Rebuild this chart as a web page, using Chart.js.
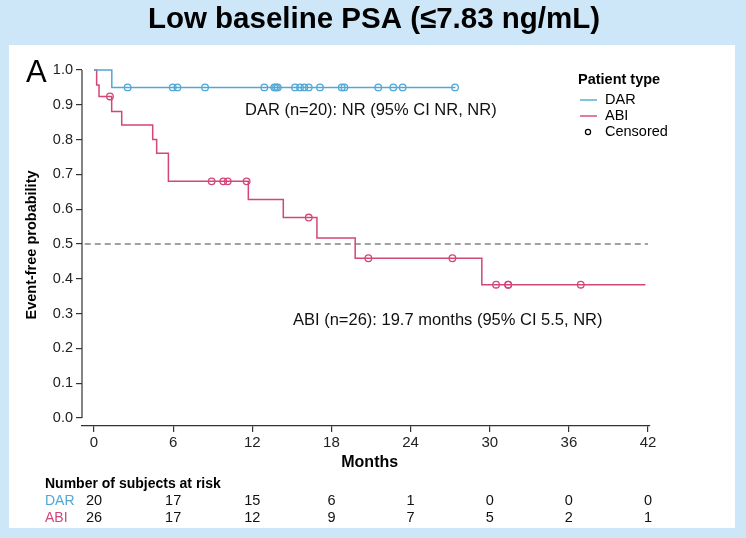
<!DOCTYPE html>
<html>
<head>
<meta charset="utf-8">
<script src="https://cdn.jsdelivr.net/npm/chart.js@4"></script>
<style>
  body { margin: 0; background: #cde7f8; }
  #panel { position: absolute; left: 9px; top: 45px; width: 726px; height: 483px; background: #fff; }
  #km { position: absolute; left: 0; top: 0; }
</style>
</head>
<body>
<div id="panel"></div>
<canvas id="km" width="746" height="538"></canvas>
<script>
// Kaplan-Meier steps (months, event-free probability)
const darTimes = [0, 1.35, 27.4];
const darSurv = [1.0, 0.95, 0.95];
const darCensored = [2.55, 5.97, 6.32, 8.42, 12.91, 13.67, 13.8, 13.93, 15.24, 15.62, 15.94, 16.28, 17.13, 18.78, 18.98, 21.55, 22.69, 23.4, 27.37];

const abiTimes = [0, 0.2, 0.38, 1.34, 2.1, 4.45, 4.75, 5.64, 11.7, 14.35, 16.9, 19.8, 29.4, 41.8];
const abiSurv = [1.0, 0.957, 0.924, 0.881, 0.842, 0.8, 0.761, 0.68, 0.628, 0.576, 0.517, 0.459, 0.383, 0.383];
const abiCensored = [1.21, 8.92, 9.8, 10.14, 11.57, 16.28, 20.8, 27.17, 30.48, 31.4, 31.4, 36.9];

const xTicks = [0, 6, 12, 18, 24, 30, 36, 42];
const yTicks = [0, 0.1, 0.2, 0.3, 0.4, 0.5, 0.6, 0.7, 0.8, 0.9, 1.0];
const riskDar = [20, 17, 15, 6, 1, 0, 0, 0];
const riskAbi = [26, 17, 12, 9, 7, 5, 2, 1];

const DAR_COLOR = '#4fa8d6';
const ABI_COLOR = '#d2467a';
const FONT = 'Arial, "Liberation Sans", sans-serif';

function survAt(times, surv, t) {
    let s = surv[0];
    for (let i = 0; i < times.length; i++) {
        if (times[i] <= t) s = surv[i];
    }
    return s;
}

function steps(times, surv) {
    return times.map((t, i) => ({ x: t, y: surv[i] }));
}

function marks(times, surv, cens) {
    return cens.map(t => ({ x: t, y: survAt(times, surv, t) }));
}

// everything that is not an axis: titles, legend, notes, risk table
const extras = {
    id: 'extras',
    beforeDatasetsDraw(chart) {
        const ctx = chart.ctx;
        const x = chart.scales.x, y = chart.scales.y;
        ctx.save();
        // y axis line, only from 0 to 1
        ctx.strokeStyle = '#333';
        ctx.lineWidth = 1.2;
        ctx.beginPath();
        ctx.moveTo(chart.chartArea.left, y.getPixelForValue(0));
        ctx.lineTo(chart.chartArea.left, y.getPixelForValue(1));
        ctx.stroke();
        // median line
        ctx.setLineDash([6, 4]);
        ctx.strokeStyle = '#444';
        ctx.lineWidth = 1.1;
        ctx.beginPath();
        ctx.moveTo(x.getPixelForValue(-0.7), y.getPixelForValue(0.5));
        ctx.lineTo(x.getPixelForValue(42), y.getPixelForValue(0.5));
        ctx.stroke();
        ctx.restore();
    },
    afterDraw(chart) {
        const ctx = chart.ctx;
        const x = chart.scales.x;
        ctx.save();
        ctx.fillStyle = '#000';
        ctx.textBaseline = 'middle';

        ctx.textAlign = 'center';
        ctx.font = 'bold 29.5px ' + FONT;
        ctx.fillText('Low baseline PSA (\u22647.83 ng/mL)', 374, 20);

        ctx.textAlign = 'left';
        ctx.font = '31px ' + FONT;
        ctx.fillText('A', 26, 73);

        ctx.save();
        ctx.translate(32, 245);
        ctx.rotate(-Math.PI / 2);
        ctx.textAlign = 'center';
        ctx.font = 'bold 14.5px ' + FONT;
        ctx.fillText('Event-free probability', 0, 0);
        ctx.restore();

        ctx.textAlign = 'center';
        ctx.font = 'bold 16px ' + FONT;
        ctx.fillText('Months', x.getPixelForValue(20.9), 463);

        ctx.textAlign = 'left';
        ctx.font = '16.5px ' + FONT;
        ctx.fillStyle = '#111';
        ctx.fillText('DAR (n=20): NR (95% CI NR, NR)', 245, 110);
        ctx.fillText('ABI (n=26): 19.7 months (95% CI 5.5, NR)', 293, 320);

        // legend
        ctx.fillStyle = '#000';
        ctx.font = 'bold 14.5px ' + FONT;
        ctx.fillText('Patient type', 578, 80);
        ctx.font = '14.5px ' + FONT;
        ctx.fillText('DAR', 605, 100);
        ctx.fillText('ABI', 605, 116);
        ctx.fillText('Censored', 605, 132);
        ctx.lineWidth = 1.4;
        ctx.strokeStyle = DAR_COLOR;
        ctx.beginPath(); ctx.moveTo(580, 100); ctx.lineTo(597, 100); ctx.stroke();
        ctx.strokeStyle = ABI_COLOR;
        ctx.beginPath(); ctx.moveTo(580, 116); ctx.lineTo(597, 116); ctx.stroke();
        ctx.strokeStyle = '#000';
        ctx.lineWidth = 1.2;
        ctx.beginPath(); ctx.arc(588, 132, 2.6, 0, Math.PI * 2); ctx.stroke();

        // number at risk
        ctx.font = 'bold 14px ' + FONT;
        ctx.fillStyle = '#000';
        ctx.fillText('Number of subjects at risk', 45, 484);
        ctx.font = '14px ' + FONT;
        ctx.fillStyle = DAR_COLOR;
        ctx.fillText('DAR', 45, 501);
        ctx.fillStyle = ABI_COLOR;
        ctx.fillText('ABI', 45, 518);
        ctx.fillStyle = '#111';
        ctx.textAlign = 'center';
        ctx.font = '14.5px ' + FONT;
        xTicks.forEach((t, i) => {
            ctx.fillText(String(riskDar[i]), x.getPixelForValue(t), 501);
            ctx.fillText(String(riskAbi[i]), x.getPixelForValue(t), 518);
        });
        ctx.restore();
    }
};

new Chart(document.getElementById('km'), {
    type: 'line',
    data: {
        datasets: [
            {
                label: 'DAR',
                data: steps(darTimes, darSurv),
                stepped: 'before',
                borderColor: DAR_COLOR,
                borderWidth: 1.5,
                pointRadius: 0,
                fill: false,
                clip: false
            },
            {
                label: 'ABI',
                data: steps(abiTimes, abiSurv),
                stepped: 'before',
                borderColor: ABI_COLOR,
                borderWidth: 1.5,
                pointRadius: 0,
                fill: false,
                clip: false
            },
            {
                label: 'DAR censored',
                data: marks(darTimes, darSurv, darCensored),
                showLine: false,
                pointStyle: 'circle',
                pointRadius: 3.3,
                pointBorderWidth: 1.3,
                pointBorderColor: DAR_COLOR,
                pointBackgroundColor: 'rgba(255,255,255,0)',
                clip: false
            },
            {
                label: 'ABI censored',
                data: marks(abiTimes, abiSurv, abiCensored),
                showLine: false,
                pointStyle: 'circle',
                pointRadius: 3.3,
                pointBorderWidth: 1.3,
                pointBorderColor: ABI_COLOR,
                pointBackgroundColor: 'rgba(255,255,255,0)',
                clip: false
            }
        ]
    },
    options: {
        responsive: false,
        animation: false,
        layout: { padding: { left: 0, right: 96, top: 70, bottom: 76 } },
        plugins: {
            legend: { display: false },
            tooltip: { enabled: false }
        },
        scales: {
            x: {
                type: 'linear',
                min: -0.91,
                max: 42.15,
                afterBuildTicks: s => { s.ticks = xTicks.map(v => ({ value: v })); },
                afterFit: s => { s.height = 36; },
                grid: { drawOnChartArea: false, drawTicks: true, tickLength: 6, color: '#333', lineWidth: 1.2 },
                border: { display: true, color: '#333', width: 1.2 },
                ticks: { color: '#222', font: { family: FONT, size: 15 }, padding: 2, maxRotation: 0 }
            },
            y: {
                min: -0.023,
                max: 1.0,
                afterBuildTicks: s => { s.ticks = yTicks.map(v => ({ value: v })); },
                afterFit: s => { s.width = 82; },
                grid: { drawOnChartArea: false, drawTicks: true, tickLength: 6, color: '#333', lineWidth: 1.2 },
                border: { display: false },
                ticks: {
                    color: '#222',
                    font: { family: FONT, size: 14.5 },
                    padding: 3,
                    callback: v => v.toFixed(1)
                }
            }
        }
    },
    plugins: [extras]
});
</script>
</body>
</html>
